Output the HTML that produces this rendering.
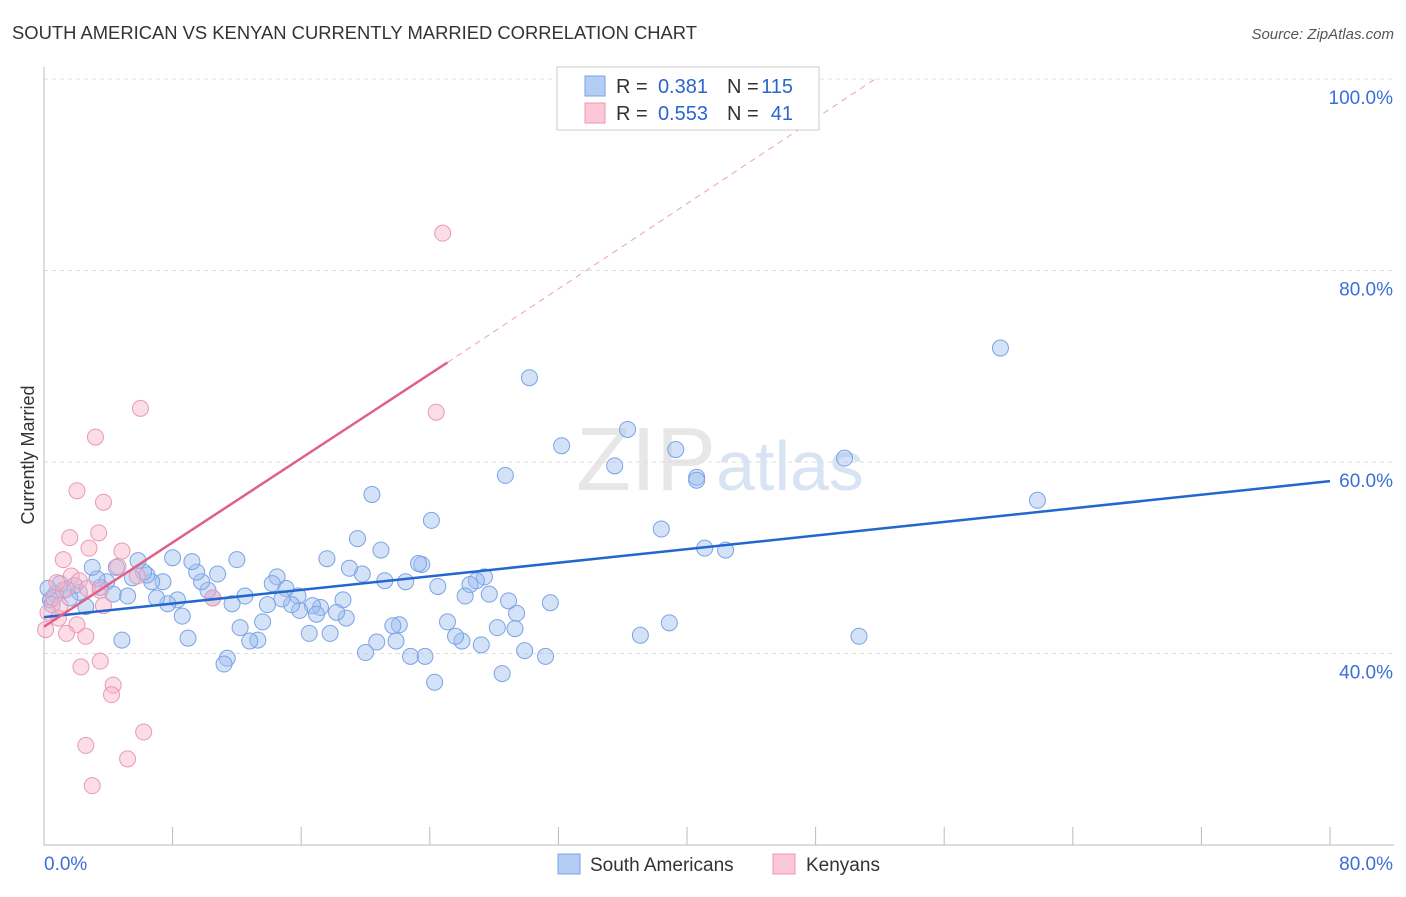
<!DOCTYPE html>
<html><head><meta charset="utf-8">
<style>
body{margin:0;background:#fff;font-family:"Liberation Sans",sans-serif;}
svg text{font-family:"Liberation Sans",sans-serif;}
</style></head>
<body>
<svg id="chart" width="1406" height="892" xmlns="http://www.w3.org/2000/svg">
<text x="12" y="39" font-size="18" fill="#333" textLength="685" lengthAdjust="spacingAndGlyphs">SOUTH AMERICAN VS KENYAN CURRENTLY MARRIED CORRELATION CHART</text>
<text x="1394" y="39" font-size="15" fill="#555" text-anchor="end" font-style="italic">Source: ZipAtlas.com</text>
<text x="720" y="490" font-size="90" fill="#ddd" text-anchor="middle" font-family="Liberation Serif" opacity="0.7">ZIP<tspan fill="#c8d8ee" font-family="Liberation Sans" font-size="70">atlas</tspan></text>
<text transform="translate(34,455) rotate(-90)" font-size="18" fill="#333" text-anchor="middle">Currently Married</text>
<g id="grid"></g>
<g id="marks"></g>
<g>
<rect x="557" y="67" width="262" height="63" fill="#fff" stroke="#ccc"/>
<rect x="585" y="76" width="20" height="20" fill="#b4cdf5" stroke="#7aa3e5"/>
<rect x="585" y="103" width="20" height="20" fill="#fcc7d6" stroke="#e89ab5"/>
<text x="616" y="93" font-size="20" fill="#333">R =</text>
<text x="708" y="93" font-size="20" fill="#2a66d0" text-anchor="end">0.381</text>
<text x="727" y="93" font-size="20" fill="#333">N =</text>
<text x="793" y="93" font-size="20" fill="#2a66d0" text-anchor="end">115</text>
<text x="616" y="120" font-size="20" fill="#333">R =</text>
<text x="708" y="120" font-size="20" fill="#2a66d0" text-anchor="end">0.553</text>
<text x="727" y="120" font-size="20" fill="#333">N =</text>
<text x="793" y="120" font-size="20" fill="#2a66d0" text-anchor="end">41</text>
</g>
<g>
<rect x="558" y="854" width="22" height="20" fill="#b4cdf5" stroke="#7aa3e5"/>
<text x="590" y="871" font-size="19" fill="#333">South Americans</text>
<rect x="773" y="854" width="22" height="20" fill="#fcc7d6" stroke="#e89ab5"/>
<text x="806" y="871" font-size="19" fill="#333">Kenyans</text>
</g>
</svg>
<script>
const yTicks=[40,60,80,100];
const yTickLabels=["40.0%","60.0%","80.0%","100.0%"];
const xTicks=[0,8,16,24,32,40,48,56,64,72,80];
const blueX=[59.5,61.8,50.7,49.8,40.6,40.6,41.1,42.4,39.3,38.4,38.9,37.1,36.3,35.5,32.2,30.2,28.7,31.5,31.2,29.9,29.4,29.3,28.9,28.2,28.5,27.7,27.4,26.9,26.5,26.2,27.2,26.0,25.6,25.1,24.5,24.1,24.3,23.7,23.5,23.3,22.8,22.5,22.1,21.7,21.9,21.2,20.96,20.7,20.0,20.4,19.5,19.8,19.0,18.6,18.8,18.2,17.6,17.8,17.2,16.7,16.95,16.5,15.9,15.8,15.4,15.05,14.8,14.5,14.2,13.9,13.6,13.3,12.8,12.2,12.5,12.0,11.7,11.4,11.2,10.8,10.5,10.2,9.8,9.5,9.2,8.96,8.6,8.3,8.0,7.7,7.4,7.0,6.7,6.4,6.2,5.85,5.5,5.2,4.85,4.5,4.3,3.9,3.5,3.3,3.0,2.6,2.2,1.9,1.6,1.2,1.0,0.7,0.4,0.25,0.5];
const blueY=[71.9,56.0,41.8,60.4,58.4,58.1,51.0,50.8,61.3,53.0,43.2,41.9,63.4,59.6,61.7,68.8,58.6,45.3,39.7,40.3,44.2,42.6,45.5,42.7,37.9,46.2,48.0,47.6,47.2,46.0,40.9,41.3,41.8,43.3,47.0,53.9,37.0,39.7,49.3,49.4,39.7,47.5,43.0,42.9,41.3,47.6,50.8,41.2,40.1,56.6,52.0,48.3,48.9,45.6,43.7,44.3,49.9,42.1,44.8,45.0,44.1,42.1,44.5,46.0,45.1,46.8,45.7,48.0,47.3,45.1,43.3,41.4,41.3,42.7,46.0,49.8,45.2,39.5,38.9,48.3,45.8,46.6,47.5,48.5,49.6,41.6,43.9,45.6,50.0,45.2,47.5,45.8,47.5,48.2,48.5,49.7,47.9,46.0,41.4,49.0,46.2,47.5,46.9,47.8,49.0,44.9,46.4,47.1,45.8,46.6,47.3,46.2,45.6,46.8,45.1];
const pinkX=[24.8,24.4,6.0,3.2,2.05,3.7,1.6,3.4,1.2,2.8,4.85,4.6,5.8,1.7,2.2,1.4,0.8,2.7,3.5,0.6,1.0,3.7,0.25,0.9,2.05,1.4,0.1,2.6,2.3,3.5,4.3,4.2,6.2,2.6,5.2,3.0,10.5];
const pinkY=[83.9,65.2,65.6,62.6,57.0,55.8,52.1,52.6,49.8,51.0,50.7,49.1,48.1,48.1,47.6,46.7,47.4,46.8,46.6,45.8,45.0,45.0,44.3,43.7,43.0,42.1,42.5,41.8,38.6,39.2,36.7,35.7,31.8,30.4,29.0,26.2,45.8];
const blueLine=[[0,43.8],[80,58.0]];
const pinkLine=[[0,42.8],[25.1,70.4]];
const pinkDash=[[25.1,70.4],[51.7,100]];

const NS="http://www.w3.org/2000/svg";
const X=v=>44+v*16.075;
const Y=v=>79+(100-v)*9.575;
const grid=document.getElementById('grid'),marks=document.getElementById('marks');
function mk(tag,attrs,parent){const e=document.createElementNS(NS,tag);for(const k in attrs)e.setAttribute(k,attrs[k]);parent.appendChild(e);return e;}
yTicks.forEach((t,i)=>{
  const l=mk('line',{x1:44,x2:1394,y1:Y(t),y2:Y(t),stroke:'#ddd','stroke-dasharray':'4,4'},grid);
  
  
  const tx=mk('text',{x:1393,y:Y(t)+25,'font-size':19,fill:'#3a6fd8','text-anchor':'end'},grid);
  tx.textContent=yTickLabels[i];
  
  
});
const ax=mk('line',{x1:44,x2:1394,y1:845,y2:845,stroke:'#bbb'},grid);


const ay=mk('line',{x1:44,x2:44,y1:67,y2:845,stroke:'#bbb'},grid);


xTicks.forEach(t=>{
  const l=mk('line',{x1:X(t),x2:X(t),y1:827,y2:845,stroke:'#bbb'},grid);
  
  
});
[["0.0%",44,"start"],["80.0%",1393,"end"]].forEach(a=>{
  const tx=mk('text',{x:a[1],y:870,'font-size':19,fill:'#3a6fd8','text-anchor':a[2]},grid);
  tx.textContent=a[0];
  
  
});
blueX.forEach((v,i)=>{
  const c=mk('circle',{cx:X(v),cy:Y(blueY[i]),r:8,fill:'rgba(160,190,240,0.45)',stroke:'#7aa3e5','stroke-width':1},marks);
  
  
});
pinkX.forEach((v,i)=>{
  const c=mk('circle',{cx:X(v),cy:Y(pinkY[i]),r:8,fill:'rgba(248,180,200,0.45)',stroke:'#e89ab5','stroke-width':1},marks);
  
  
});
const bl=mk('line',{x1:X(blueLine[0][0]),y1:Y(blueLine[0][1]),x2:X(blueLine[1][0]),y2:Y(blueLine[1][1]),stroke:'#2266d0','stroke-width':2.5},marks);


const pl=mk('line',{x1:X(pinkLine[0][0]),y1:Y(pinkLine[0][1]),x2:X(pinkLine[1][0]),y2:Y(pinkLine[1][1]),stroke:'#e0608a','stroke-width':2.5},marks);


const pd=mk('line',{x1:X(pinkDash[0][0]),y1:Y(pinkDash[0][1]),x2:X(pinkDash[1][0]),y2:Y(pinkDash[1][1]),stroke:'#eaa0b8','stroke-width':1,'stroke-dasharray':'6,5'},marks);


</script>
</body></html>
